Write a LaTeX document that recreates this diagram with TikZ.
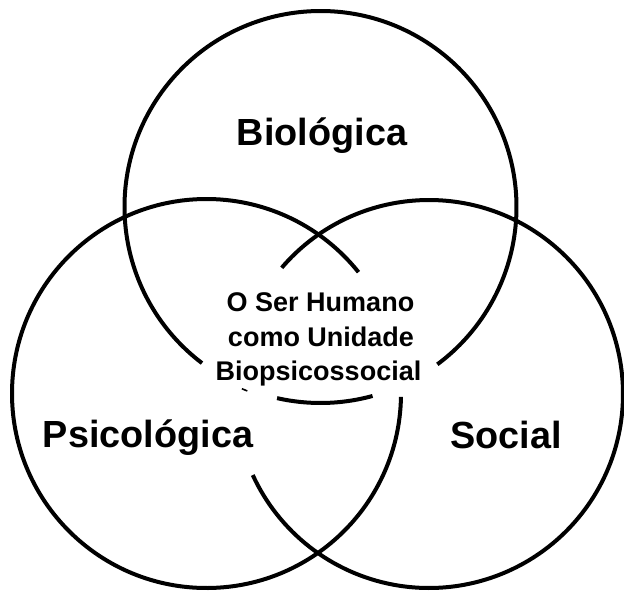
\documentclass[tikz,border=0pt]{standalone}
\usepackage{fontspec}
\setmainfont{Liberation Sans}
\begin{document}
\begin{tikzpicture}[x=1pt,y=-1pt,
  ring/.style={line width=4pt,black},
  faint/.style={line width=1.6pt,black},
  biglabel/.style={font=\bfseries\fontsize{37.8}{40}\selectfont,inner sep=0pt,anchor=base},
  midlabel/.style={font=\bfseries\fontsize{27}{30}\selectfont,inner sep=0pt,anchor=base}]
\useasboundingbox[fill=white] (0,0) rectangle (624,592);
\coordinate (cT) at (320.5,207);
\coordinate (cL) at (206.5,393.5);
\coordinate (cR) at (429,394);
% top circle (Biologica)
\draw[ring] ([shift={(127.2:196)}]cT) arc[start angle=127.2,end angle=413.4,radius=196];
\draw[ring] ([shift={(74.6:196)}]cT) arc[start angle=74.6,end angle=102.8,radius=196];
\draw[faint] ([shift={(111.7:198)}]cT) arc[start angle=111.7,end angle=113.4,radius=198];
% left circle (Psicologica)
\draw[ring] ([shift={(1:194.5)}]cL) arc[start angle=1,end angle=321.4,radius=194.5];
% right circle (Social)
\draw[ring] ([shift={(220.6:194)}]cR) arc[start angle=220.6,end angle=515.3,radius=194];
% labels
\node[biglabel] (bio) at (322,145) {Biológica};
\node[biglabel] (psi) at (148,447) {Psicológica};
\node[biglabel] (soc) at (506,448) {Social};
\node[midlabel] (m1) at (320.5,311.7) {O Ser Humano};
\node[midlabel] (m2) at (321,346.7) {como Unidade};
\node[midlabel] (m3) at (318.5,380) {Biopsicossocial};
\end{tikzpicture}
\end{document}
